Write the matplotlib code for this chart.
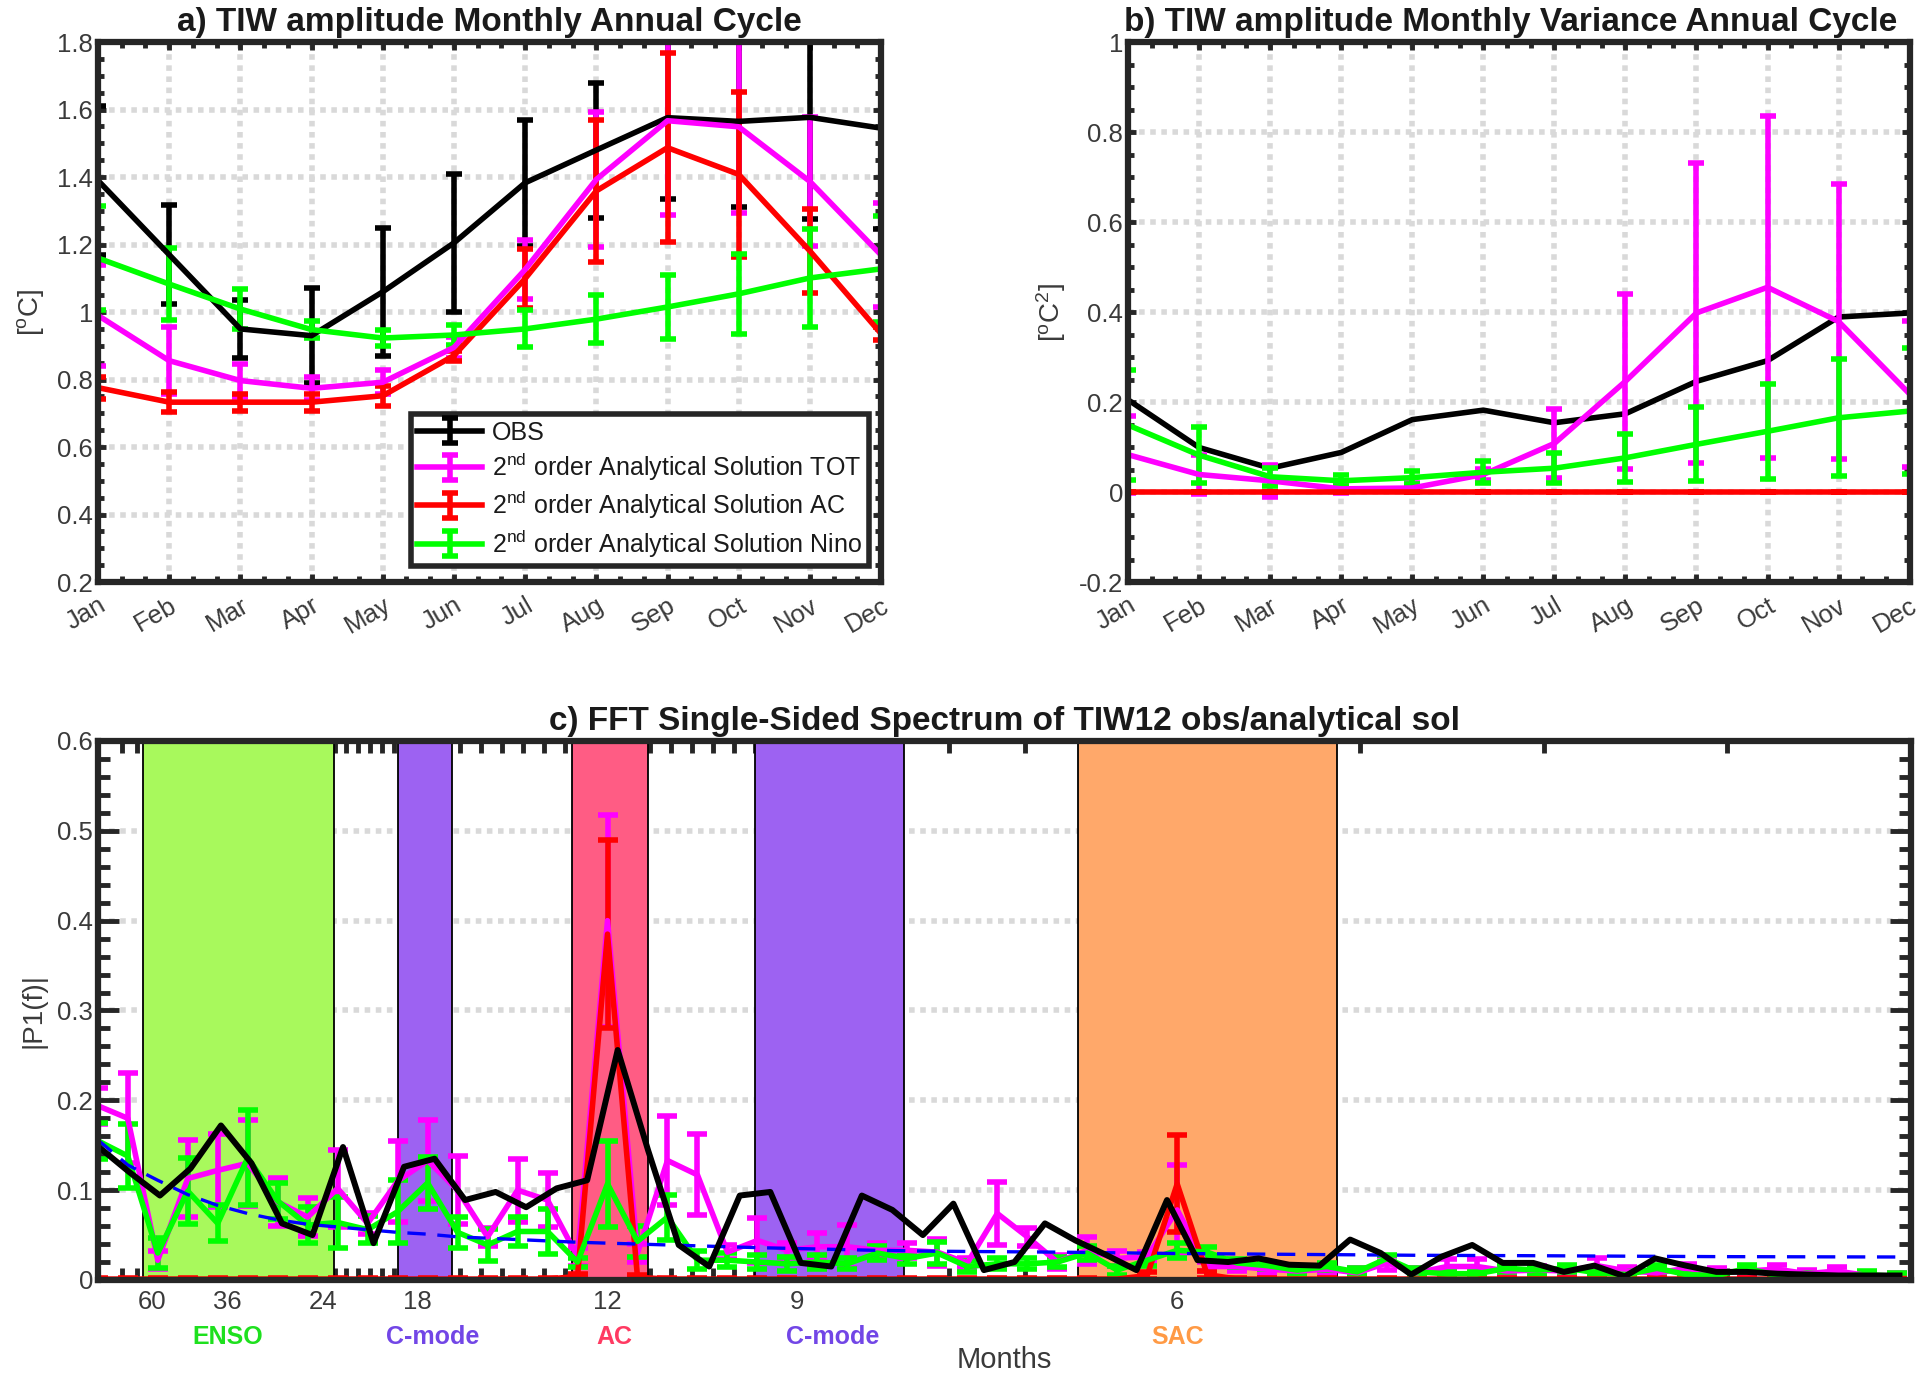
import numpy as np
import matplotlib
matplotlib.use('Agg')
import matplotlib.pyplot as plt
from matplotlib.ticker import FixedLocator, FuncFormatter, MultipleLocator

plt.rcParams['font.family'] = ['Liberation Sans', 'DejaVu Sans']
plt.rcParams['mathtext.fontset'] = 'custom'
plt.rcParams['mathtext.rm'] = 'Liberation Sans'
plt.rcParams['mathtext.it'] = 'Liberation Sans:italic'
plt.rcParams['mathtext.bf'] = 'Liberation Sans:bold'
plt.rcParams['axes.unicode_minus'] = False

# ---------------- data ----------------
months = ['Jan', 'Feb', 'Mar', 'Apr', 'May', 'Jun',
          'Jul', 'Aug', 'Sep', 'Oct', 'Nov', 'Dec']

# a) TIW amplitude monthly annual cycle [degC]
amp_obs = [1.39, 1.17, 0.95, 0.93, 1.06, 1.205, 1.383, 1.48, 1.576, 1.565, 1.577, 1.545]
amp_obs_err = [0.22, 0.147, 0.086, 0.14, 0.19, 0.205, 0.186, 0.2, 0.242, 0.255, 0.3, 0.3]
amp_tot = [0.99, 0.856, 0.797, 0.774, 0.792, 0.895, 1.126, 1.393, 1.567, 1.549, 1.387, 1.169]
amp_tot_err = [0.15, 0.1, 0.05, 0.035, 0.036, 0.03, 0.087, 0.2, 0.28, 0.254, 0.19, 0.155]
amp_ac = [0.776, 0.733, 0.733, 0.733, 0.752, 0.871, 1.099, 1.359, 1.487, 1.408, 1.181, 0.936]
amp_ac_err = [0.033, 0.03, 0.025, 0.025, 0.03, 0.015, 0.088, 0.21, 0.28, 0.245, 0.124, 0.02]
amp_nino = [1.16, 1.083, 1.009, 0.948, 0.923, 0.932, 0.95, 0.979, 1.015, 1.054, 1.101, 1.128]
amp_nino_err = [0.153, 0.108, 0.058, 0.026, 0.025, 0.03, 0.055, 0.072, 0.095, 0.118, 0.145, 0.157]

# b) TIW amplitude monthly variance annual cycle [degC^2]
var_obs = [0.205, 0.099, 0.053, 0.088, 0.161, 0.182, 0.154, 0.174, 0.246, 0.292, 0.389, 0.398]
var_tot = [0.083, 0.039, 0.025, 0.007, 0.009, 0.039, 0.108, 0.246, 0.398, 0.455, 0.379, 0.218]
var_tot_err = [0.085, 0.043, 0.035, 0.01, 0.01, 0.012, 0.077, 0.195, 0.333, 0.38, 0.306, 0.163]
var_ac = [0, 0, 0, 0, 0, 0, 0, 0, 0, 0, 0, 0]
var_ac_err = [0, 0, 0, 0, 0, 0, 0, 0, 0, 0, 0, 0]
var_nino = [0.149, 0.082, 0.034, 0.025, 0.032, 0.044, 0.053, 0.076, 0.106, 0.135, 0.165, 0.18]
var_nino_err = [0.123, 0.062, 0.02, 0.012, 0.015, 0.024, 0.033, 0.053, 0.082, 0.105, 0.13, 0.141]

# c) FFT single-sided spectrum, frequency bins k/N (cycles per month)
N_OBS = 224
N_MOD = 228
obs_bins = np.arange(2, 62)
mod_bins = np.arange(2, 63)

spec_obs = [0.148, 0.120, 0.094, 0.124, 0.172, 0.130, 0.063, 0.050, 0.148, 0.041,
            0.126, 0.135, 0.089, 0.098, 0.081, 0.102, 0.111, 0.256, 0.144, 0.039,
            0.015, 0.094, 0.098, 0.019, 0.015, 0.094, 0.078, 0.050, 0.085, 0.011,
            0.020, 0.063, 0.044, 0.028, 0.011, 0.089, 0.022, 0.020, 0.024, 0.017,
            0.016, 0.045, 0.030, 0.006, 0.026, 0.039, 0.019, 0.019, 0.009, 0.016,
            0.004, 0.024, 0.016, 0.009, 0.009, 0.007, 0.006, 0.005, 0.005, 0.005]

spec_tot = [0.194, 0.180, 0.022, 0.113, 0.122, 0.130, 0.087, 0.070, 0.102, 0.063,
            0.110, 0.133, 0.100, 0.048, 0.100, 0.089, 0.026, 0.400, 0.030, 0.133,
            0.117, 0.031, 0.044, 0.033, 0.037, 0.037, 0.033, 0.033, 0.031, 0.019,
            0.074, 0.048, 0.020, 0.033, 0.024, 0.026, 0.078, 0.015, 0.015, 0.012,
            0.010, 0.012, 0.008, 0.019, 0.008, 0.015, 0.015, 0.010, 0.011, 0.010,
            0.016, 0.010, 0.008, 0.013, 0.008, 0.010, 0.012, 0.007, 0.010, 0.005,
            0.004]
spec_tot_err = [0.02, 0.05, 0.01, 0.043, 0.041, 0.048, 0.027, 0.021, 0.043, 0.012,
                0.045, 0.045, 0.038, 0.01, 0.035, 0.03, 0.01, 0.118, 0.01, 0.05,
                0.045, 0.008, 0.025, 0.008, 0.015, 0.024, 0.008, 0.008, 0.015, 0.005,
                0.035, 0.01, 0.008, 0.015, 0.008, 0.005, 0.05, 0.005, 0.005, 0.005,
                0.005, 0.005, 0.005, 0.008, 0.005, 0.008, 0.008, 0.005, 0.005, 0.005,
                0.008, 0.005, 0.005, 0.005, 0.005, 0.005, 0.005, 0.004, 0.004, 0.004,
                0.004]

spec_ac = [0.001, 0.001, 0.001, 0.001, 0.001, 0.001, 0.001, 0.001, 0.001, 0.001,
           0.001, 0.001, 0.001, 0.001, 0.001, 0.001, 0.004, 0.385, 0.003, 0.001,
           0.001, 0.001, 0.001, 0.001, 0.001, 0.001, 0.001, 0.001, 0.001, 0.001,
           0.001, 0.001, 0.001, 0.001, 0.001, 0.005, 0.107, 0.006, 0.001, 0.001,
           0.001, 0.001, 0.001, 0.001, 0.001, 0.001, 0.001, 0.001, 0.001, 0.001,
           0.001, 0.001, 0.001, 0.001, 0.001, 0.001, 0.001, 0.001, 0.001, 0.001,
           0.001]
spec_ac_err = [0.001, 0.001, 0.001, 0.001, 0.001, 0.001, 0.001, 0.001, 0.001, 0.001,
               0.001, 0.001, 0.001, 0.001, 0.001, 0.001, 0.003, 0.105, 0.002, 0.001,
               0.001, 0.001, 0.001, 0.001, 0.001, 0.001, 0.001, 0.001, 0.001, 0.001,
               0.001, 0.001, 0.001, 0.001, 0.001, 0.004, 0.054, 0.004, 0.001, 0.001,
               0.001, 0.001, 0.001, 0.001, 0.001, 0.001, 0.001, 0.001, 0.001, 0.001,
               0.001, 0.001, 0.001, 0.001, 0.001, 0.001, 0.001, 0.001, 0.001, 0.001,
               0.001]

spec_nino = [0.155, 0.138, 0.030, 0.099, 0.063, 0.136, 0.088, 0.061, 0.064, 0.056,
             0.076, 0.108, 0.053, 0.039, 0.054, 0.054, 0.020, 0.107, 0.043, 0.070,
             0.022, 0.022, 0.020, 0.018, 0.020, 0.018, 0.030, 0.024, 0.030, 0.015,
             0.018, 0.018, 0.020, 0.030, 0.011, 0.022, 0.033, 0.031, 0.019, 0.016,
             0.011, 0.015, 0.009, 0.024, 0.009, 0.007, 0.007, 0.013, 0.011, 0.013,
             0.008, 0.006, 0.013, 0.006, 0.005, 0.013, 0.005, 0.004, 0.004, 0.006,
             0.004]
spec_nino_err = [0.02, 0.036, 0.017, 0.037, 0.02, 0.053, 0.02, 0.02, 0.028, 0.015,
                 0.035, 0.029, 0.017, 0.018, 0.016, 0.025, 0.005, 0.048, 0.017, 0.025,
                 0.01, 0.008, 0.008, 0.008, 0.008, 0.006, 0.008, 0.006, 0.012, 0.006,
                 0.006, 0.006, 0.006, 0.008, 0.005, 0.006, 0.008, 0.006, 0.004, 0.004,
                 0.004, 0.004, 0.004, 0.004, 0.004, 0.004, 0.004, 0.004, 0.004, 0.004,
                 0.004, 0.004, 0.004, 0.004, 0.004, 0.004, 0.004, 0.004, 0.004, 0.004,
                 0.004]

# red-noise background (blue dashed)
noise_bins = [2, 3, 4, 5, 6, 7, 8, 9, 10, 11, 12, 13, 14, 16, 18, 20, 22, 24,
              26, 28, 30, 34, 38, 42, 46, 50, 56, 62]
noise_level = [0.156, 0.128, 0.111, 0.095, 0.083, 0.074, 0.067, 0.062, 0.059,
               0.056, 0.053, 0.051, 0.048, 0.045, 0.042, 0.040, 0.038, 0.036,
               0.0345, 0.033, 0.032, 0.031, 0.0295, 0.0285, 0.0275, 0.027,
               0.026, 0.0256]

# shaded period bands (months, long -> short)
band_periods = [(64.9, 23.1), (19.0, 16.5), (12.8, 11.2), (9.53, 7.89), (6.57, 5.26)]
band_names = ['ENSO', 'C-mode', 'AC', 'C-mode', 'SAC']
label_periods = [36, 17.3, 11.85, 8.6, 6]
tick_periods = [60, 36, 24, 18, 12, 9, 6]

# ---------------- style ----------------
band_fill = ['#A8F95C', '#9D62F2', '#FF5C84', '#9D62F2', '#FFA86A']
band_text = ['#1EE01E', '#7246E6', '#FF3A62', '#7246E6', '#FF9A45']
C_OBS, C_TOT, C_AC, C_NINO = 'black', '#FF00FF', '#FF0000', '#00FF00'
AX_COL = '#262626'
TXT_COL = '#3a3a3a'
GRID_COL = '#d9d9d9'
TICK_FS = 18.5
fmt_g = FuncFormatter(lambda v, p: '%g' % round(v, 3))


def style_axes(ax, major_len, minor_len):
    for s in ax.spines.values():
        s.set_linewidth(4.5)
        s.set_color(AX_COL)
    ax.tick_params(which='both', direction='in', top=True, right=True,
                   color=AX_COL, labelcolor=TXT_COL, labelsize=TICK_FS)
    ax.tick_params(which='major', length=major_len, width=3.5)
    ax.tick_params(which='minor', length=minor_len, width=3.5)
    ax.set_axisbelow(True)


def grid_on(ax, axis='both'):
    ax.grid(True, axis=axis, color=GRID_COL, linestyle=(0, (1, 1)), linewidth=4)


def month_axes(ax):
    x = np.arange(1, 13)
    ax.set_xlim(1, 12)
    ax.set_xticks(x)
    # rotated labels hang from their top-right corner, as in MATLAB
    ax.set_xticklabels(months, rotation=30, ha='right', va='top',
                       rotation_mode='anchor')
    ax.xaxis.set_minor_locator(MultipleLocator(1 / 3))
    ax.yaxis.set_major_formatter(fmt_g)
    ax.tick_params(axis='x', pad=8)
    return x


ebar = dict(linewidth=4, elinewidth=4, capsize=6, capthick=4)

fig = plt.figure(figsize=(19.25, 13.75), dpi=100)

# ---------------- a) ----------------
ax = fig.add_axes([0.0509, 0.5767, 0.4068, 0.3927])
style_axes(ax, 6, 4)
grid_on(ax)
x = month_axes(ax)
label_a = ['OBS',
           r'2$^{\mathrm{nd}}$ order Analytical Solution TOT',
           r'2$^{\mathrm{nd}}$ order Analytical Solution AC',
           r'2$^{\mathrm{nd}}$ order Analytical Solution Nino']
for y, e, c, lab in [(amp_obs, amp_obs_err, C_OBS, label_a[0]),
                     (amp_tot, amp_tot_err, C_TOT, label_a[1]),
                     (amp_ac, amp_ac_err, C_AC, label_a[2]),
                     (amp_nino, amp_nino_err, C_NINO, label_a[3])]:
    ax.errorbar(x, y, yerr=e, color=c, label=lab, **ebar)
ax.set_ylim(0.2, 1.8)
ax.yaxis.set_major_locator(MultipleLocator(0.2))
ax.yaxis.set_minor_locator(MultipleLocator(0.05))
ax.set_ylabel(r'[$^{\mathrm{o}}$C]', fontsize=20, color=TXT_COL, labelpad=8)
ax.set_title('a) TIW amplitude Monthly Annual Cycle', fontsize=24,
             fontweight='bold', color='#1a1a1a', pad=8)
leg = ax.legend(loc='lower right', bbox_to_anchor=(0.984, 0.03), fontsize=18,
                frameon=True, fancybox=False, framealpha=1, borderpad=0.25,
                labelspacing=0.25, handlelength=2.6, handletextpad=0.4,
                borderaxespad=0)
leg.get_frame().set_edgecolor(AX_COL)
leg.get_frame().set_linewidth(4)
for t in leg.get_texts():
    t.set_color('#1a1a1a')

# ---------------- b) ----------------
ax = fig.add_axes([0.586, 0.5767, 0.406, 0.3927])
style_axes(ax, 6, 4)
grid_on(ax)
x = month_axes(ax)
ax.plot(x, var_obs, color=C_OBS, linewidth=4)
ax.errorbar(x, var_tot, yerr=var_tot_err, color=C_TOT, **ebar)
ax.errorbar(x, var_ac, yerr=var_ac_err, color=C_AC, **ebar)
ax.errorbar(x, var_nino, yerr=var_nino_err, color=C_NINO, **ebar)
ax.set_ylim(-0.2, 1.0)
ax.yaxis.set_major_locator(MultipleLocator(0.2))
ax.yaxis.set_minor_locator(MultipleLocator(0.05))
ax.set_ylabel(r'[$^{\mathrm{o}}$C$^{2}$]', fontsize=20, color=TXT_COL, labelpad=8)
ax.set_title('b) TIW amplitude Monthly Variance Annual Cycle', fontsize=24,
             fontweight='bold', color='#1a1a1a', pad=8, x=0.49)

# ---------------- c) ----------------
ax = fig.add_axes([0.0509, 0.0691, 0.9418, 0.392])
style_axes(ax, 15, 8.5)
grid_on(ax, 'y')
f_obs = obs_bins / N_OBS
f_mod = mod_bins / N_MOD
f_noise = np.array(noise_bins) / N_MOD

for (p_lo, p_hi), col in zip(band_periods, band_fill):
    ax.axvspan(1 / p_lo, 1 / p_hi, facecolor=col, edgecolor='black',
               linewidth=1.3, zorder=1)

cbar = dict(linewidth=4, elinewidth=4, capsize=7, capthick=4, zorder=2)
ax.errorbar(f_mod, spec_tot, yerr=spec_tot_err, color=C_TOT, **cbar)
ax.errorbar(f_mod, spec_ac, yerr=spec_ac_err, color=C_AC, **cbar)
ax.errorbar(f_mod, spec_nino, yerr=spec_nino_err, color=C_NINO, **cbar)
ax.plot(f_noise, noise_level, color='#0000FF', linewidth=2.4,
        linestyle=(0, (5.5, 3.5)), zorder=2.2)
ax.plot(f_obs, spec_obs, color=C_OBS, linewidth=4.3, zorder=2.4)

ax.set_xlim(0.0088, 0.274)
ax.set_ylim(0, 0.6)
tick_f = [1 / p for p in tick_periods]
ax.set_xticks(tick_f)
ax.set_xticklabels([str(p) for p in tick_periods])
# minor ticks: evenly spaced between labelled periods, as on the original
minor = list(tick_f[0] - np.array([0.0022, 0.0044]))
for a, b, n in zip(tick_f[:-1], tick_f[1:], [6, 6, 9, 10, 10, 6]):
    minor += list(np.linspace(a, b, n)[1:-1])
minor += list(tick_f[-1] + 0.0268 * np.arange(1, 4))
ax.xaxis.set_minor_locator(FixedLocator(minor))
ax.yaxis.set_major_locator(MultipleLocator(0.1))
ax.yaxis.set_minor_locator(MultipleLocator(0.02))
ax.yaxis.set_major_formatter(fmt_g)
ax.tick_params(axis='x', pad=7)
ax.set_ylabel('|P1(f)|', fontsize=20, color=TXT_COL, labelpad=8)
ax.set_title('c) FFT Single-Sided Spectrum of TIW12 obs/analytical sol',
             fontsize=24, fontweight='bold', color='#1a1a1a', pad=8)

for name, p, col in zip(band_names, label_periods, band_text):
    ax.text(1 / p, -0.105, name, transform=ax.get_xaxis_transform(),
            ha='center', va='center', fontsize=18, fontweight='bold', color=col)
ax.text(0.5, -0.148, 'Months', transform=ax.transAxes, ha='center',
        va='center', fontsize=21, color=TXT_COL)

fig.savefig('out.png', dpi=100, facecolor='white')
